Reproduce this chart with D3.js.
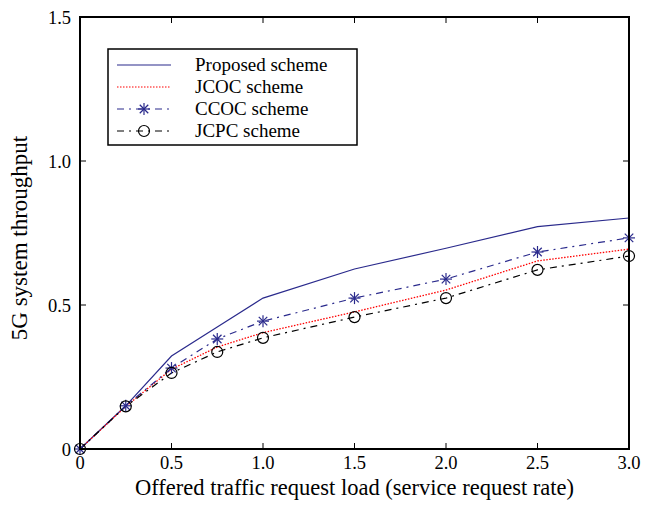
<!DOCTYPE html>
<html>
<head>
<meta charset="utf-8">
<script src="https://cdn.jsdelivr.net/npm/d3@7"></script>
<style>
  body { margin: 0; background: #fff; }
  text { font-family: "Liberation Serif", "Times New Roman", serif; }
</style>
</head>
<body>
<div id="chart"></div>
<script>
// offered load (x) and throughput per scheme
var loads = [0, 0.25, 0.5, 0.75, 1.0, 1.5, 2.0, 2.5, 3.0];
var proposed = [0, 0.15, 0.323, 0.424, 0.524, 0.625, 0.697, 0.772, 0.802];
var jcoc = [0, 0.148, 0.277, 0.354, 0.404, 0.476, 0.552, 0.653, 0.694];
var ccoc = [0, 0.15, 0.281, 0.382, 0.444, 0.524, 0.59, 0.684, 0.733];
var jcpc = [0, 0.148, 0.264, 0.337, 0.386, 0.458, 0.524, 0.622, 0.67];

var xTicks = [0, 0.5, 1.0, 1.5, 2.0, 2.5, 3.0];
var xTickLabels = ['0', '0.5', '1.0', '1.5', '2.0', '2.5', '3.0'];
var yTicks = [0, 0.5, 1.0, 1.5];
var yTickLabels = ['0', '0.5', '1.0', '1.5'];

var seriesNames = ['Proposed scheme', 'JCOC scheme', 'CCOC scheme', 'JCPC scheme'];

function main() {
  var width = 650, height = 506;
  var margin = { left: 80, right: 21, top: 17, bottom: 57 };

  var svg = d3.select('#chart').append('svg')
    .attr('width', width)
    .attr('height', height);

  var x = d3.scaleLinear()
    .domain([0, 3])
    .range([margin.left, width - margin.right]);

  var y = d3.scaleLinear()
    .domain([0, 1.5])
    .range([height - margin.bottom, margin.top]);

  var series = [
    { name: seriesNames[0], values: proposed, color: '#2a2a8c', dash: null, marker: null },
    { name: seriesNames[1], values: jcoc, color: '#ff0000', dash: '1.5,1.5', marker: null },
    { name: seriesNames[2], values: ccoc, color: '#2a2a8c', dash: '7,5,2,5', marker: 'star' },
    { name: seriesNames[3], values: jcpc, color: '#000000', dash: '7,5,2,5', marker: 'circle' }
  ];

  var line = d3.line()
    .x((d, i) => x(loads[i]))
    .y((d) => y(d));

  // Lines
  svg.selectAll('.series').data(series)
    .join('path')
    .attr('class', 'series')
    .attr('d', (d) => line(d.values))
    .attr('fill', 'none')
    .attr('stroke', (d) => d.color)
    .attr('stroke-width', (d) => d.dash === '1.5,1.5' ? 1.3 : 1.2)
    .attr('stroke-dasharray', (d) => d.dash);

  function drawMarker(g, type, color) {
    if (type === 'star') {
      var r = 6;
      [0, 45, 90, 135].forEach((a) => {
        var rad = a * Math.PI / 180;
        g.append('line')
          .attr('x1', -r * Math.cos(rad)).attr('y1', -r * Math.sin(rad))
          .attr('x2', r * Math.cos(rad)).attr('y2', r * Math.sin(rad))
          .attr('stroke', color)
          .attr('stroke-width', 1.2);
      });
    } else if (type === 'circle') {
      g.append('circle')
        .attr('r', 5.5)
        .attr('fill', 'none')
        .attr('stroke', color)
        .attr('stroke-width', 1.2);
    }
  }

  // Markers
  series.filter((s) => s.marker).forEach((s) => {
    s.values.forEach((v, i) => {
      var g = svg.append('g')
        .attr('transform', 'translate(' + x(loads[i]) + ',' + y(v) + ')');
      drawMarker(g, s.marker, s.color);
    });
  });

  // Axes box
  var x0 = x(0), x1 = x(3), y0 = y(0), y1 = y(1.5);
  svg.append('rect')
    .attr('x', x0).attr('y', y1)
    .attr('width', x1 - x0).attr('height', y0 - y1)
    .attr('fill', 'none')
    .attr('stroke', 'black')
    .attr('stroke-width', 2);

  var tickLen = 6;
  // x ticks, bottom and top, pointing inward
  svg.selectAll('.xtick').data(xTicks.slice(1, -1))
    .join('line')
    .attr('class', 'xtick')
    .attr('x1', (d) => x(d)).attr('x2', (d) => x(d))
    .attr('y1', y0).attr('y2', y0 - tickLen)
    .attr('stroke', 'black').attr('stroke-width', 1);
  svg.selectAll('.xtickTop').data(xTicks.slice(1, -1))
    .join('line')
    .attr('class', 'xtickTop')
    .attr('x1', (d) => x(d)).attr('x2', (d) => x(d))
    .attr('y1', y1).attr('y2', y1 + tickLen)
    .attr('stroke', 'black').attr('stroke-width', 1);
  svg.selectAll('.ytick').data(yTicks.slice(1, -1))
    .join('line')
    .attr('class', 'ytick')
    .attr('x1', x0).attr('x2', x0 + tickLen)
    .attr('y1', (d) => y(d)).attr('y2', (d) => y(d))
    .attr('stroke', 'black').attr('stroke-width', 1);
  svg.selectAll('.ytickRight').data(yTicks.slice(1, -1))
    .join('line')
    .attr('class', 'ytickRight')
    .attr('x1', x1).attr('x2', x1 - tickLen)
    .attr('y1', (d) => y(d)).attr('y2', (d) => y(d))
    .attr('stroke', 'black').attr('stroke-width', 1);

  // Tick labels
  svg.selectAll('.xlabel').data(xTicks)
    .join('text')
    .attr('class', 'xlabel')
    .attr('x', (d) => x(d))
    .attr('y', y0 + 20)
    .attr('text-anchor', 'middle')
    .attr('font-size', 18.5)
    .text((d, i) => xTickLabels[i]);

  svg.selectAll('.ylabel').data(yTicks)
    .join('text')
    .attr('class', 'ylabel')
    .attr('x', x0 - 9)
    .attr('y', (d) => y(d) + 7)
    .attr('text-anchor', 'end')
    .attr('font-size', 18.5)
    .text((d, i) => yTickLabels[i]);

  // Axis titles
  svg.append('text')
    .attr('x', (x0 + x1) / 2)
    .attr('y', 495)
    .attr('text-anchor', 'middle')
    .attr('font-size', 22.5)
    .text('Offered traffic request load (service request rate)');

  svg.append('text')
    .attr('transform', 'translate(27,238) rotate(-90)')
    .attr('text-anchor', 'middle')
    .attr('font-size', 23)
    .text('5G system throughput');

  // Legend
  var legend = svg.append('g').attr('transform', 'translate(108,49)');
  legend.append('rect')
    .attr('width', 249).attr('height', 96)
    .attr('fill', 'white')
    .attr('stroke', 'black')
    .attr('stroke-width', 1.5);

  var rows = legend.selectAll('.legendRow').data(series)
    .join('g')
    .attr('class', 'legendRow')
    .attr('transform', (d, i) => 'translate(0,' + (16 + i * 22) + ')');

  rows.append('line')
    .attr('x1', 9).attr('x2', 63)
    .attr('stroke', (d) => d.color)
    .attr('stroke-width', 1.2)
    .attr('stroke-dasharray', (d) => d.dash);

  rows.each(function (d) {
    if (d.marker) {
      var g = d3.select(this).append('g').attr('transform', 'translate(36,0)');
      drawMarker(g, d.marker, d.color);
    }
  });

  rows.append('text')
    .attr('x', 87)
    .attr('y', 6)
    .attr('font-size', 19)
    .text((d) => d.name);
}

main();
</script>
</body>
</html>
